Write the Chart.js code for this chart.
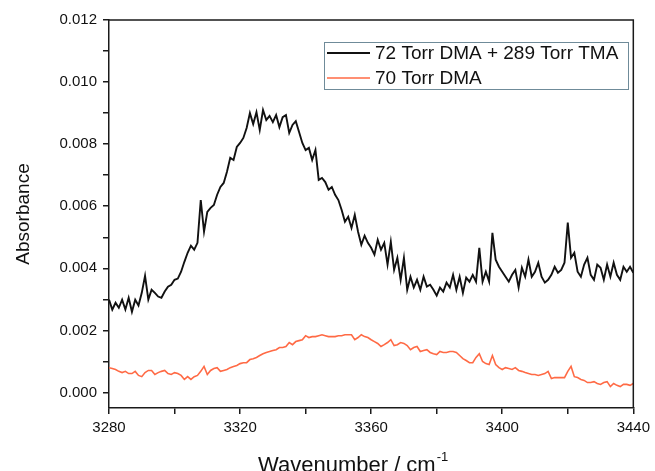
<!DOCTYPE html>
<html>
<head>
<meta charset="utf-8">
<script src="https://cdn.jsdelivr.net/npm/chart.js@4.4.0/dist/chart.umd.min.js"></script>
<style>
  html, body { margin: 0; padding: 0; background: #fff; }
  #wrap { width: 655px; height: 471px; }
</style>
</head>
<body>
<div id="wrap"><canvas id="myChart" width="655" height="471"></canvas></div>
<script>
// wavenumber grid, cm-1 (1 cm-1 steps)
const wavenumbers = [];
for (let w = 3280; w <= 3440; w++) wavenumbers.push(w);

// labelled ticks, plus unlabelled minor ticks halfway between
const xTicks = [3280, 3320, 3360, 3400, 3440];
const xMinor = [3300, 3340, 3380, 3420];
const yTicks = [0.000, 0.002, 0.004, 0.006, 0.008, 0.010, 0.012];
const yMinor = [0.001, 0.003, 0.005, 0.007, 0.009, 0.011];

// 72 Torr DMA + 289 Torr TMA
const mixAbs = [
  0.00299, 0.00267, 0.00289, 0.00273, 0.00299, 0.00267, 0.00305, 0.00260, 0.00299, 0.00280,
  0.00321, 0.00376, 0.00299, 0.00331, 0.00321, 0.00309, 0.00305, 0.00325, 0.00341, 0.00347,
  0.00363, 0.00367, 0.00389, 0.00421, 0.00450, 0.00473, 0.00460, 0.00482, 0.00620, 0.00518,
  0.00582, 0.00595, 0.00604, 0.00637, 0.00662, 0.00675, 0.00711, 0.00756, 0.00749, 0.00791,
  0.00804, 0.00820, 0.00852, 0.00900, 0.00865, 0.00903, 0.00846, 0.00910, 0.00878, 0.00891,
  0.00871, 0.00894, 0.00855, 0.00887, 0.00894, 0.00836, 0.00862, 0.00874, 0.00839, 0.00804,
  0.00781, 0.00788, 0.00749, 0.00781, 0.00685, 0.00691, 0.00678, 0.00653, 0.00662, 0.00637,
  0.00620, 0.00588, 0.00550, 0.00566, 0.00530, 0.00572, 0.00518, 0.00476, 0.00505, 0.00482,
  0.00466, 0.00444, 0.00492, 0.00460, 0.00482, 0.00412, 0.00485, 0.00395, 0.00434, 0.00363,
  0.00434, 0.00331, 0.00373, 0.00338, 0.00363, 0.00331, 0.00373, 0.00341, 0.00347, 0.00331,
  0.00312, 0.00338, 0.00325, 0.00354, 0.00338, 0.00379, 0.00331, 0.00373, 0.00321, 0.00370,
  0.00357, 0.00379, 0.00357, 0.00466, 0.00357, 0.00389, 0.00357, 0.00514, 0.00428, 0.00405,
  0.00389, 0.00373, 0.00357, 0.00379, 0.00395, 0.00338, 0.00402, 0.00373, 0.00428, 0.00373,
  0.00389, 0.00418, 0.00373, 0.00354, 0.00363, 0.00379, 0.00405, 0.00386, 0.00395, 0.00418,
  0.00547, 0.00434, 0.00450, 0.00389, 0.00373, 0.00412, 0.00434, 0.00379, 0.00363, 0.00412,
  0.00402, 0.00363, 0.00412, 0.00373, 0.00418, 0.00379, 0.00363, 0.00405, 0.00389, 0.00405,
  0.00386
];

// 70 Torr DMA
const dmaAbs = [
  0.00080, 0.00077, 0.00074, 0.00068, 0.00064, 0.00068, 0.00061, 0.00061, 0.00068, 0.00055,
  0.00051, 0.00064, 0.00071, 0.00071, 0.00058, 0.00064, 0.00068, 0.00071, 0.00061, 0.00058,
  0.00064, 0.00061, 0.00055, 0.00042, 0.00051, 0.00042, 0.00051, 0.00055, 0.00068, 0.00084,
  0.00058, 0.00071, 0.00077, 0.00080, 0.00068, 0.00071, 0.00074, 0.00080, 0.00084, 0.00087,
  0.00093, 0.00096, 0.00096, 0.00106, 0.00109, 0.00113, 0.00119, 0.00125, 0.00129, 0.00132,
  0.00135, 0.00138, 0.00145, 0.00145, 0.00148, 0.00161, 0.00154, 0.00164, 0.00167, 0.00170,
  0.00183, 0.00177, 0.00180, 0.00180, 0.00183, 0.00186, 0.00183, 0.00180, 0.00180, 0.00180,
  0.00183, 0.00183, 0.00186, 0.00186, 0.00186, 0.00170, 0.00177, 0.00186, 0.00180, 0.00177,
  0.00170, 0.00164, 0.00158, 0.00148, 0.00154, 0.00161, 0.00170, 0.00151, 0.00154, 0.00161,
  0.00158, 0.00151, 0.00138, 0.00145, 0.00148, 0.00132, 0.00135, 0.00138, 0.00129, 0.00125,
  0.00122, 0.00132, 0.00129, 0.00129, 0.00132, 0.00132, 0.00129, 0.00119, 0.00109, 0.00103,
  0.00096, 0.00096, 0.00113, 0.00125, 0.00100, 0.00093, 0.00090, 0.00119, 0.00090, 0.00080,
  0.00074, 0.00080, 0.00077, 0.00074, 0.00080, 0.00071, 0.00068, 0.00064, 0.00061, 0.00058,
  0.00058, 0.00055, 0.00058, 0.00061, 0.00068, 0.00045, 0.00048, 0.00048, 0.00048, 0.00048,
  0.00068, 0.00084, 0.00051, 0.00048, 0.00042, 0.00039, 0.00032, 0.00032, 0.00035, 0.00029,
  0.00026, 0.00032, 0.00035, 0.00019, 0.00029, 0.00023, 0.00019, 0.00026, 0.00026, 0.00023,
  0.00029
];

const FONT = "'Liberation Sans', Arial, Helvetica, sans-serif";
const AXIS = '#1a1a1a';

const toPoints = (ys) => ys.map((y, i) => ({x: wavenumbers[i], y: y}));
const near = (v, list) => list.some(t => Math.abs(t - v) < 1e-9);
const tickList = (major, minor) => major.concat(minor).sort((a, b) => a - b).map(v => ({value: v}));

// white background, top/right frame, legend box and x title
const decor = {
  id: 'decor',
  beforeDraw(chart) {
    const ctx = chart.ctx;
    ctx.save();
    ctx.fillStyle = '#fff';
    ctx.fillRect(0, 0, chart.width, chart.height);
    ctx.restore();
  },
  afterDraw(chart) {
    const {ctx, chartArea: a} = chart;
    ctx.save();
    ctx.strokeStyle = AXIS;
    ctx.lineWidth = 1.5;
    ctx.beginPath();
    ctx.moveTo(a.left, a.top);
    ctx.lineTo(a.right, a.top);
    ctx.lineTo(a.right, a.bottom);
    ctx.stroke();

    // legend
    const lx = 324, ly = 42, lw = 304, lh = 47;
    ctx.strokeStyle = '#6f8b99';
    ctx.lineWidth = 1;
    ctx.strokeRect(lx + 0.5, ly + 0.5, lw, lh);
    ctx.font = '19px ' + FONT;
    ctx.textBaseline = 'middle';
    chart.data.datasets.forEach((ds, i) => {
      const yy = ly + 11 + i * 25;
      ctx.strokeStyle = ds.borderColor;
      ctx.lineWidth = ds.borderWidth;
      ctx.beginPath();
      ctx.moveTo(lx + 3, yy);
      ctx.lineTo(lx + 46, yy);
      ctx.stroke();
      ctx.fillStyle = '#111';
      ctx.fillText(ds.label, lx + 51, yy + 1);
    });

    // x title with superscript (bottom of the letters runs off the picture, as in the original)
    const main = 'Wavenumber / cm';
    const sup = '-1';
    ctx.fillStyle = '#111';
    ctx.textBaseline = 'alphabetic';
    ctx.font = '22px ' + FONT;
    const wMain = ctx.measureText(main).width;
    const x0 = a.left + 149;
    ctx.fillText(main, x0, 472);
    ctx.font = '13px ' + FONT;
    ctx.fillText(sup, x0 + wMain + 1, 461);
    ctx.restore();
  }
};

new Chart(document.getElementById('myChart').getContext('2d'), {
  type: 'line',
  data: {
    datasets: [
      {
        label: '72 Torr DMA + 289 Torr TMA',
        data: toPoints(mixAbs),
        borderColor: '#111111',
        borderWidth: 1.9,
        pointRadius: 0,
        tension: 0
      },
      {
        label: '70 Torr DMA',
        data: toPoints(dmaAbs),
        borderColor: '#ff6a45',
        borderWidth: 1.6,
        pointRadius: 0,
        tension: 0
      }
    ]
  },
  options: {
    responsive: false,
    animation: false,
    layout: { padding: { left: 0, right: 18, top: 20, bottom: 0 } },
    plugins: {
      legend: { display: false },
      tooltip: { enabled: false }
    },
    scales: {
      x: {
        type: 'linear',
        min: 3280,
        max: 3440,
        afterFit: s => { s.height = 63; },
        afterBuildTicks: s => { s.ticks = tickList(xTicks, xMinor); },
        ticks: {
          autoSkip: false,
          maxRotation: 0,
          padding: 5,
          color: '#111',
          font: { size: 15, family: FONT },
          callback: v => near(v, xTicks) ? String(v) : ''
        },
        grid: { display: true, drawOnChartArea: false, drawTicks: true, tickLength: 6, color: AXIS, lineWidth: 1.5 },
        border: { display: true, color: AXIS, width: 1.5 }
      },
      y: {
        min: -0.0005,
        max: 0.012,
        afterFit: s => { s.width = 109; },
        afterBuildTicks: s => { s.ticks = tickList(yTicks, yMinor); },
        title: {
          display: true,
          text: 'Absorbance',
          color: '#111',
          font: { size: 19, family: FONT },
          padding: { top: 12, bottom: 0 }
        },
        ticks: {
          autoSkip: false,
          padding: 6,
          color: '#111',
          font: { size: 15, family: FONT },
          callback: v => near(v, yTicks) ? v.toFixed(3) : ''
        },
        grid: { display: true, drawOnChartArea: false, drawTicks: true, tickLength: 6, color: AXIS, lineWidth: 1.5 },
        border: { display: true, color: AXIS, width: 1.5 }
      }
    }
  },
  plugins: [decor]
});
</script>
</body>
</html>
